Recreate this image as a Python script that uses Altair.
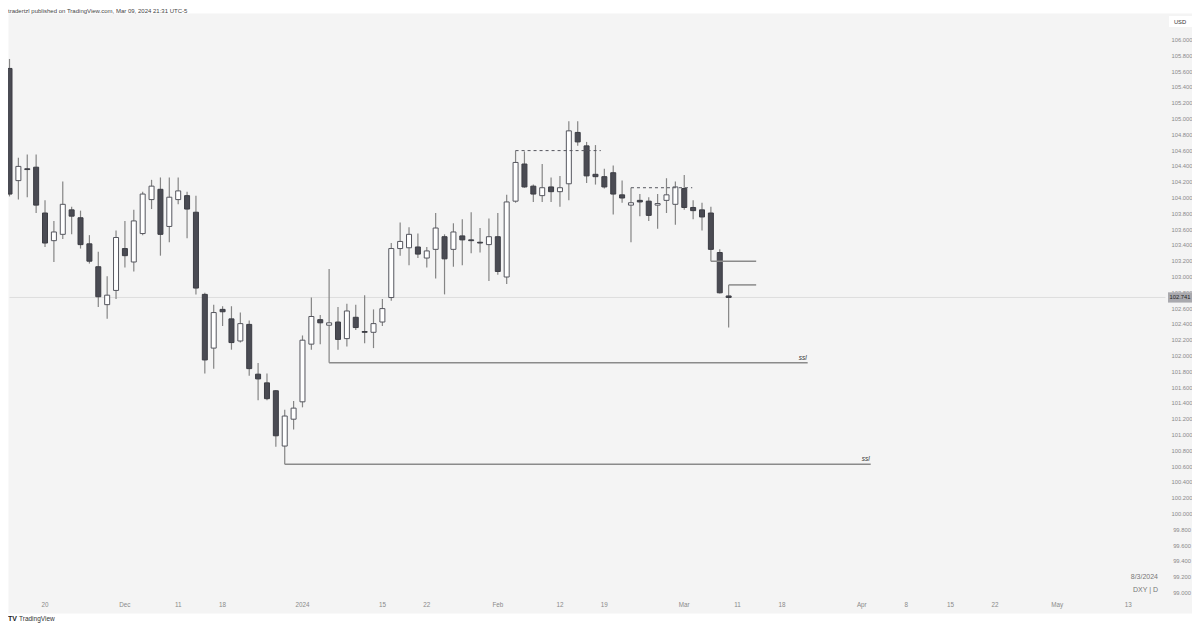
import altair as alt
import pandas as pd

# ---------------- data ----------------
dates = ["2023-11-14", "2023-11-15", "2023-11-16", "2023-11-17",
         "2023-11-20", "2023-11-21", "2023-11-22", "2023-11-23", "2023-11-24",
         "2023-11-27", "2023-11-28", "2023-11-29", "2023-11-30", "2023-12-01",
         "2023-12-04", "2023-12-05", "2023-12-06", "2023-12-07", "2023-12-08",
         "2023-12-11", "2023-12-12", "2023-12-13", "2023-12-14", "2023-12-15",
         "2023-12-18", "2023-12-19", "2023-12-20", "2023-12-21", "2023-12-22",
         "2023-12-26", "2023-12-27", "2023-12-28", "2023-12-29",
         "2024-01-02", "2024-01-03", "2024-01-04", "2024-01-05",
         "2024-01-08", "2024-01-09", "2024-01-10", "2024-01-11", "2024-01-12",
         "2024-01-15", "2024-01-16", "2024-01-17", "2024-01-18", "2024-01-19",
         "2024-01-22", "2024-01-23", "2024-01-24", "2024-01-25", "2024-01-26",
         "2024-01-29", "2024-01-30", "2024-01-31", "2024-02-01", "2024-02-02",
         "2024-02-05", "2024-02-06", "2024-02-07", "2024-02-08", "2024-02-09",
         "2024-02-12", "2024-02-13", "2024-02-14", "2024-02-15", "2024-02-16",
         "2024-02-19", "2024-02-20", "2024-02-21", "2024-02-22", "2024-02-23",
         "2024-02-26", "2024-02-27", "2024-02-28", "2024-02-29", "2024-03-01",
         "2024-03-04", "2024-03-05", "2024-03-06", "2024-03-07", "2024-03-08"]

opens = [105.64, 104.22, 104.37, 104.39,
         103.81, 103.46, 103.54, 103.85, 103.75,
         103.42, 103.13, 102.65, 102.83, 103.36,
         103.19, 103.55, 103.98, 104.11, 103.64,
         103.98, 104.03, 103.82, 102.78, 102.10,
         102.59, 102.47, 102.19, 102.40, 101.77,
         101.66, 101.56, 100.86, 101.20,
         101.42, 102.15, 102.46, 102.39,
         102.43, 102.22, 102.49, 102.31, 102.30,
         102.43, 102.74, 103.36, 103.37, 103.38,
         103.24, 103.35, 103.51, 103.35, 103.52,
         103.47, 103.44, 103.41, 103.51, 103.00,
         103.96, 104.43, 104.15, 104.03, 104.14,
         104.08, 104.18, 104.83, 104.66, 104.30,
         104.27, 104.32, 104.04, 103.91, 103.97,
         103.96, 103.91, 103.97, 103.92, 104.12,
         103.88, 103.85, 103.81, 103.31, 102.76]

highs = [105.76, 104.51, 104.55, 104.55,
         103.97, 103.71, 104.21, 103.89, 103.84,
         103.53, 103.32, 103.01, 103.59, 103.71,
         103.85, 104.08, 104.23, 104.26, 104.26,
         104.26, 104.08, 104.03, 102.80, 102.65,
         102.63, 102.63, 102.55, 102.45, 101.91,
         101.78, 101.57, 101.32, 101.43,
         102.26, 102.74, 102.52, 103.10,
         102.62, 102.66, 102.65, 102.77, 102.59,
         102.72, 103.43, 103.69, 103.63, 103.55,
         103.38, 103.81, 103.54, 103.68, 103.73,
         103.82, 103.62, 103.74, 103.81, 104.04,
         104.60, 104.59, 104.17, 104.43, 104.26,
         104.28, 104.97, 104.97, 104.71, 104.67,
         104.37, 104.41, 104.22, 104.13, 104.05,
         104.01, 104.05, 104.25, 104.21, 104.29,
         103.97, 103.94, 103.89, 103.35, 102.90]

lows = [104.02, 103.98, 104.01, 103.81,
        103.38, 103.19, 103.48, 103.54, 103.36,
        103.17, 102.62, 102.47, 102.72, 103.12,
        103.07, 103.53, 103.86, 103.27, 103.44,
        103.92, 103.49, 102.78, 101.78, 101.84,
        102.38, 102.08, 102.17, 101.75, 101.44,
        101.44, 100.85, 100.63, 101.07,
        101.35, 102.08, 102.15, 101.915,
        102.08, 102.12, 102.33, 102.16, 102.10,
        102.38, 102.70, 103.27, 103.15, 103.24,
        103.12, 102.98, 102.78, 103.13, 103.15,
        103.30, 103.31, 102.95, 103.03, 102.91,
        103.94, 104.13, 103.95, 103.95, 103.95,
        103.89, 103.97, 104.66, 104.19, 104.17,
        104.12, 103.79, 103.94, 103.44, 103.77,
        103.71, 103.61, 103.81, 103.66, 103.85,
        103.73, 103.59, 103.20, 102.79, 102.36]

closes = [104.05, 104.40, 104.36, 103.91,
          103.43, 103.57, 103.92, 103.77, 103.41,
          103.20, 102.75, 102.77, 103.50, 103.27,
          103.71, 104.05, 104.15, 103.54, 104.01,
          104.09, 103.86, 102.86, 101.95, 102.55,
          102.56, 102.17, 102.41, 101.84, 101.71,
          101.46, 100.99, 101.24, 101.34,
          102.20, 102.50, 102.42, 102.42,
          102.21, 102.57, 102.36, 102.30, 102.41,
          102.60, 103.36, 103.45, 103.54, 103.29,
          103.33, 103.62, 103.23, 103.57, 103.47,
          103.46, 103.43, 103.51, 103.07, 103.95,
          104.45, 104.14, 104.05, 104.13, 104.08,
          104.13, 104.85, 104.71, 104.28, 104.27,
          104.14, 104.05, 104.00, 103.94, 103.95,
          103.78, 103.93, 104.04, 104.14, 103.88,
          103.84, 103.76, 103.35, 102.80, 102.741]

# time-axis labels and the bar slot (0 = first bar) they sit on
time_labels = ["20", "Dec", "11", "18", "2024", "15", "22", "Feb", "12", "19",
               "Mar", "11", "18", "Apr", "8", "15", "22", "May", "13"]
time_slots = [4, 13, 19, 24, 33, 42, 47, 55, 62, 67,
              76, 82, 87, 96, 101, 106, 111, 118, 126]

price_labels = ["99.000", "99.200", "99.400", "99.600", "99.800", "100.000",
                "100.200", "100.400", "100.600", "100.800", "101.000", "101.200",
                "101.400", "101.600", "101.800", "102.000", "102.200", "102.400",
                "102.600", "102.800", "103.000", "103.200", "103.400", "103.600",
                "103.800", "104.000", "104.200", "104.400", "104.600", "104.800",
                "105.000", "105.200", "105.400", "105.600", "105.800", "106.000"]

# drawn levels: start slot, end slot, price, style
level_start = [36, 31, 57, 70, 79, 81]
level_end = [89.9, 97.0, 66.6, 76.9, 84.1, 84.1]
level_price = [101.915, 100.63, 104.60, 104.13, 103.20, 102.90]
level_dashed = [False, False, True, True, False, False]

ssl_text = ["ssl", "ssl"]
ssl_slot = [89.8, 96.9]
ssl_price = [101.94, 100.655]

last_price = 102.741
last_price_label = "102.741"
last_line_end = 130.2

header = "tradertzl published on TradingView.com, Mar 09, 2024 21:31 UTC-5"

# ---------------- frames ----------------
candles = pd.DataFrame({"date": dates, "open": opens, "high": highs,
                        "low": lows, "close": closes})
candles["slot"] = range(len(candles))

levels = pd.DataFrame({"x": level_start, "x2": level_end, "p": level_price,
                       "dashed": level_dashed})
ssl_df = pd.DataFrame({"t": ssl_text, "x": ssl_slot, "p": ssl_price})
time_df = pd.DataFrame({"t": time_labels, "x": time_slots})
price_df = pd.DataFrame({"t": price_labels,
                         "p": [float(s) for s in price_labels]})
last_df = pd.DataFrame({"t": [last_price_label], "p": [last_price],
                        "x": [0], "x2": [last_line_end]})

W, H = 1184, 600
xs = alt.Scale(domain=[-0.169, 133.19], nice=False, zero=False, padding=0)
ys = alt.Scale(domain=[98.7468, 106.3418], nice=False, zero=False, padding=0)
FONT = "Liberation Sans"

X = lambda f: alt.X(f, type="quantitative", scale=xs, axis=None)
Y = lambda f: alt.Y(f, type="quantitative", scale=ys, axis=None)

base = alt.Chart(candles)

wicks = base.mark_rule(color="#858585", strokeWidth=1.2, clip=True).encode(
    x=X("slot"), y=Y("low"), y2="high")

up = base.transform_filter("datum.close >= datum.open").mark_bar(
    size=5, fill="#ffffff", stroke="#55565e", strokeWidth=1, clip=True
).encode(x=X("slot"), y=Y("open"), y2="close")

down = base.transform_filter("datum.close < datum.open").mark_bar(
    size=5, fill="#4a4b53", stroke="#3c3d44", strokeWidth=1, clip=True
).encode(x=X("slot"), y=Y("open"), y2="close")

price_line = alt.Chart(last_df).mark_rule(color="#dddddd", strokeWidth=1, clip=True).encode(
    x=X("x"), x2="x2", y=Y("p"))

solid_levels = alt.Chart(levels).transform_filter("!datum.dashed").mark_rule(
    color="#8a8a8a", strokeWidth=1.5).encode(x=X("x"), x2="x2", y=Y("p"))
dashed_levels = alt.Chart(levels).transform_filter("datum.dashed").mark_rule(
    color="#55565e", strokeWidth=1, strokeDash=[3, 3]).encode(x=X("x"), x2="x2", y=Y("p"))

ssl_marks = alt.Chart(ssl_df).mark_text(
    font=FONT, fontSize=6.5, fontStyle="italic", color="#333333",
    align="right", baseline="bottom").encode(x=X("x"), y=Y("p"), text="t")

time_axis = alt.Chart(time_df).mark_text(
    font=FONT, fontSize=6.3, color="#8a8a8a", align="center", baseline="middle"
).encode(x=X("x"), y=alt.value(592), text="t")

price_axis = alt.Chart(price_df).mark_text(
    font=FONT, fontSize=5.8, color="#8a8a8a", align="center", baseline="middle"
).encode(x=alt.value(1174), y=Y("p"), text="t")

last_box = alt.Chart(last_df).mark_rect(fill="#a9a9ae").encode(
    x=alt.value(1160), x2=alt.value(1184),
    y=alt.Y("p0:Q", scale=ys, axis=None), y2="p1:Q"
).transform_calculate(p0="datum.p + 0.065", p1="datum.p - 0.065")
last_text = alt.Chart(last_df).mark_text(
    font=FONT, fontSize=5.8, color="#1e1e1e", align="center", baseline="middle"
).encode(x=alt.value(1172), y=Y("p"), text="t")

usd_df = pd.DataFrame({"t": ["USD"]})
usd_box = alt.Chart(usd_df).mark_rect(fill="#ffffff").encode(
    x=alt.value(1161), x2=alt.value(1184), y=alt.value(3), y2=alt.value(14))
usd_text = alt.Chart(usd_df).mark_text(
    font=FONT, fontSize=5.8, color="#333333", align="center", baseline="middle"
).encode(x=alt.value(1172), y=alt.value(8.5), text="t")

info_df = pd.DataFrame({"t": ["8/3/2024", "DXY | D"], "yy": [564, 577]})
info = alt.Chart(info_df).mark_text(
    font=FONT, fontSize=7, color="#777777", align="right", baseline="middle"
).encode(x=alt.value(1150), y=alt.Y("yy:Q", scale=None, axis=None), text="t")

head_df = pd.DataFrame({"t": [header]})
head = alt.Chart(head_df).mark_text(
    font=FONT, fontSize=6, color="#444444", align="left", baseline="alphabetic"
).encode(x=alt.value(0), y=alt.value(-0.5), text="t")

foot_df = pd.DataFrame({"t": ["TradingView"], "logo": ["TV"]})
foot_logo = alt.Chart(foot_df).mark_text(
    font=FONT, fontSize=7, fontWeight="bold", color="#222222", align="left",
    baseline="middle").encode(x=alt.value(0), y=alt.value(606), text="logo")
foot = alt.Chart(foot_df).mark_text(
    font=FONT, fontSize=6.5, color="#333333", align="left", baseline="middle"
).encode(x=alt.value(11), y=alt.value(606), text="t")

chart = alt.layer(
    price_line, wicks, up, down, solid_levels, dashed_levels, ssl_marks,
    time_axis, price_axis, last_box, last_text, usd_box, usd_text, info,
    head, foot_logo, foot
).properties(
    width=W, height=H,
    padding={"left": 0, "top": 5, "right": 0, "bottom": 12},
    autosize=alt.AutoSizeParams(type="none"),
    background="#ffffff",
).configure_view(fill="#f4f4f4", stroke="transparent")

chart.save("out.html", embed_options={"renderer": "svg", "actions": False})
